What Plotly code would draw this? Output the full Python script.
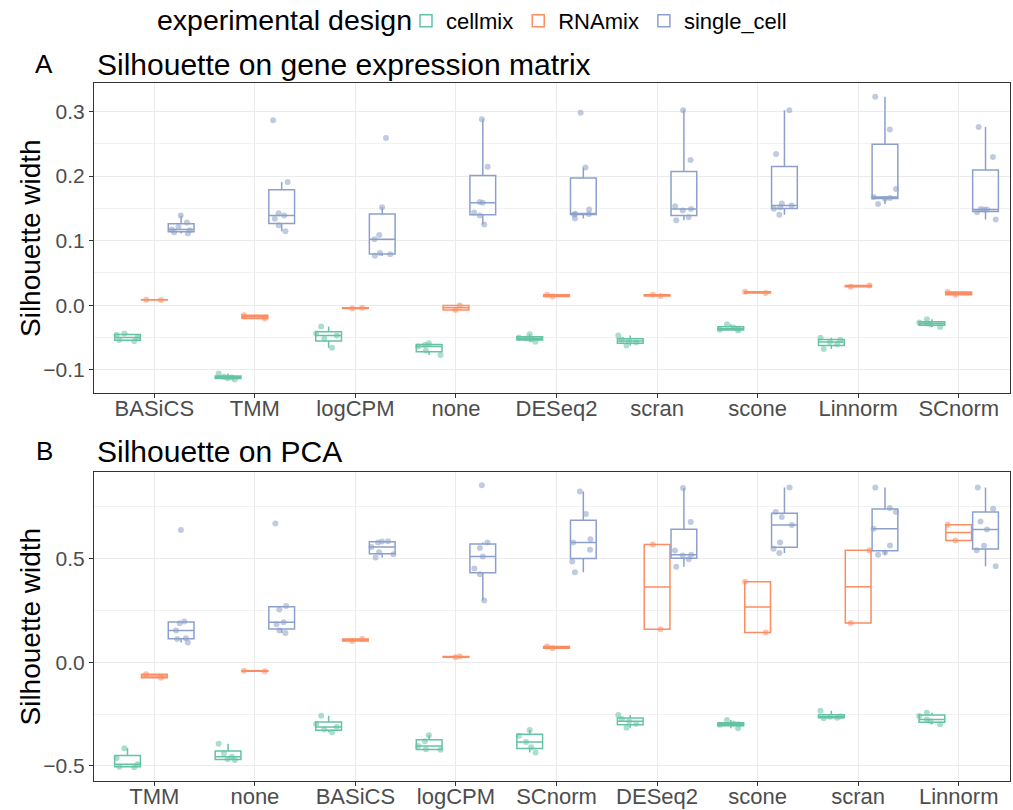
import plotly.graph_objects as go

# ---------------- data ----------------
cats_A = ["BASiCS", "TMM", "logCPM", "none", "DESeq2", "scran", "scone", "Linnorm", "SCnorm"]
cats_B = ["TMM", "none", "BASiCS", "logCPM", "SCnorm", "DESeq2", "scone", "scran", "Linnorm"]
groups = ["cellmix", "RNAmix", "single_cell"]

# Panel A: silhouette on gene expression matrix (one list per method, in cats_A order)
A_cellmix = [
    [-0.044, -0.046, -0.050, -0.054, -0.056],
    [-0.106, -0.111, -0.112, -0.113, -0.115],
    [-0.066, -0.052, -0.047, -0.044, -0.033],
    [-0.077, -0.0705, -0.064, -0.0617, -0.059],
    [-0.045, -0.050, -0.0515, -0.053, -0.0565],
    [-0.0625, -0.058, -0.0555, -0.0535, -0.047],
    [-0.0394, -0.038, -0.0365, -0.0347, -0.0295],
    [-0.0679, -0.0606, -0.057, -0.054, -0.0503],
    [-0.0337, -0.030, -0.0285, -0.027, -0.0218],
]
A_RNAmix = [
    [0.008, 0.0085],
    [-0.0155, -0.0205],
    [-0.004, -0.005],
    [-0.0073, -0.0005],
    [0.0135, 0.016],
    [0.014, 0.016],
    [0.0207, 0.0187],
    [0.0285, 0.0306],
    [0.016, 0.0202],
]
A_single_cell = [
    [0.111, 0.113, 0.116, 0.117, 0.121, 0.128, 0.139],
    [0.1145, 0.1238, 0.1337, 0.1389, 0.1425, 0.1907, 0.2865],
    [0.0767, 0.0788, 0.0808, 0.102, 0.1088, 0.1518, 0.259],
    [0.1249, 0.1389, 0.1435, 0.1585, 0.1596, 0.2145, 0.288],
    [0.134, 0.140, 0.141, 0.1415, 0.148, 0.213, 0.298],
    [0.1316, 0.1363, 0.1466, 0.149, 0.153, 0.2249, 0.302],
    [0.1399, 0.1492, 0.1518, 0.1544, 0.1575, 0.234, 0.302],
    [0.1565, 0.1648, 0.1658, 0.1674, 0.180, 0.272, 0.3228],
    [0.1326, 0.144, 0.148, 0.148, 0.149, 0.2295, 0.276],
]

# Panel B: silhouette on PCA (one list per method, in cats_B order)
B_cellmix = [
    [-0.507, -0.504, -0.492, -0.462, -0.4155],
    [-0.472, -0.468, -0.4555, -0.440, -0.393],
    [-0.338, -0.325, -0.312, -0.298, -0.258],
    [-0.422, -0.42, -0.404, -0.381, -0.3527],
    [-0.435, -0.41, -0.385, -0.355, -0.327],
    [-0.3156, -0.2963, -0.285, -0.2738, -0.2544],
    [-0.319, -0.302, -0.2995, -0.296, -0.2786],
    [-0.2705, -0.2673, -0.263, -0.2605, -0.2335],
    [-0.2995, -0.286, -0.276, -0.259, -0.2432],
]
B_RNAmix = [
    [-0.058, -0.075],
    [-0.041, -0.043],
    [0.103, 0.1127],
    [0.0274, 0.0242],
    [0.068, 0.0757],
    [0.159, 0.568],
    [0.1433, 0.389],
    [0.189, 0.540],
    [0.6634, 0.5878],
]
B_single_cell = [
    [0.095, 0.112, 0.116, 0.153, 0.188, 0.1965, 0.6377],
    [0.1417, 0.153, 0.1836, 0.193, 0.2544, 0.272, 0.670],
    [0.5056, 0.521, 0.531, 0.5556, 0.578, 0.583, 0.5835],
    [0.298, 0.425, 0.4525, 0.510, 0.5507, 0.578, 0.8535],
    [0.4348, 0.486, 0.5427, 0.578, 0.594, 0.715, 0.8245],
    [0.4606, 0.4976, 0.515, 0.5185, 0.539, 0.6763, 0.8406],
    [0.5266, 0.5475, 0.578, 0.662, 0.7005, 0.7246, 0.8438],
    [0.5185, 0.5298, 0.5636, 0.644, 0.7246, 0.744, 0.8438],
    [0.4638, 0.541, 0.562, 0.641, 0.6795, 0.7407, 0.8438],
]

# ---------------- style ----------------
line_colors = {"cellmix": "#66C2A5", "RNAmix": "#FC8D62", "single_cell": "#8DA0CB"}
point_colors = {"cellmix": "rgba(102,194,165,0.55)",
                "RNAmix": "rgba(252,141,98,0.55)",
                "single_cell": "rgba(141,160,203,0.55)"}
FONT = "Liberation Sans, Arial, Helvetica, sans-serif"
W, H = 1013, 810

panels = [
    ("A", "x", "y", cats_A, {"cellmix": A_cellmix, "RNAmix": A_RNAmix, "single_cell": A_single_cell}, True),
    ("B", "x2", "y2", cats_B, {"cellmix": B_cellmix, "RNAmix": B_RNAmix, "single_cell": B_single_cell}, False),
]

fig = go.Figure()
for pname, xa, ya, cats, data, show in panels:
    for g in groups:
        xs, ys = [], []
        for c, vals in zip(cats, data[g]):
            xs += [c] * len(vals)
            ys += vals
        fig.add_trace(go.Box(
            x=xs, y=ys, name=g, legendgroup=g, showlegend=show,
            xaxis=xa, yaxis=ya,
            alignmentgroup=pname, offsetgroup=g,
            boxpoints="all", jitter=1.0, pointpos=0,
            marker=dict(color=point_colors[g], size=6, line=dict(width=0)),
            line=dict(color=line_colors[g], width=1.5),
            fillcolor="rgba(255,255,255,0)",
            whiskerwidth=0, quartilemethod="linear",
            hoveron="boxes+points",
        ))

xdom = [94 / W, 1010 / W]
axis_common = dict(
    showline=True, mirror=True, linecolor="#333333", linewidth=1.2,
    showgrid=True, gridcolor="#EBEBEB", gridwidth=1,
    ticks="outside", ticklen=4, tickcolor="#333333", tickwidth=1,
    zeroline=False, automargin=False,
)
xtickfont = dict(family=FONT, size=22, color="#4D4D4D")
ytickfont = dict(family=FONT, size=21, color="#4D4D4D")

fig.update_layout(
    width=W, height=H,
    margin=dict(l=0, r=0, t=0, b=0),
    paper_bgcolor="white", plot_bgcolor="white",
    boxmode="group", boxgap=0.2, boxgroupgap=0.04,
    font=dict(family=FONT, color="black"),
    xaxis=dict(domain=xdom, anchor="y", type="category",
               categoryorder="array", categoryarray=cats_A,
               range=[-0.6, 8.51], tickfont=xtickfont, ticklabelstandoff=-9,
               **axis_common),
    yaxis=dict(domain=[1 - 393 / H, 1 - 83 / H], anchor="x",
               range=[-0.136, 0.344], tick0=0, dtick=0.1, tickformat=".1f",
               tickfont=ytickfont,
               minor=dict(dtick=0.05, showgrid=True, gridcolor="#F2F2F2", gridwidth=0.7, ticks=""),
               **axis_common),
    xaxis2=dict(domain=xdom, anchor="y2", type="category",
                categoryorder="array", categoryarray=cats_B,
                range=[-0.6, 8.51], tickfont=xtickfont, ticklabelstandoff=-9,
                **axis_common),
    yaxis2=dict(domain=[1 - 781 / H, 1 - 472 / H], anchor="x2",
                range=[-0.573, 0.918], tick0=0, dtick=0.5, tickformat=".1f",
                tickfont=ytickfont,
                minor=dict(dtick=0.25, showgrid=True, gridcolor="#F2F2F2", gridwidth=0.7, ticks=""),
                **axis_common),
    legend=dict(orientation="h", x=406 / W, y=1.0, xanchor="left", yanchor="top",
                font=dict(family=FONT, size=22, color="black"),
                bgcolor="rgba(0,0,0,0)", itemwidth=30),
    showlegend=True,
)

annots = [
    dict(text="experimental design", x=155 / W, y=1 - 20 / H, xanchor="left", size=28.5),
    dict(text="A", x=44 / W, y=1 - 64 / H, xanchor="center", size=26),
    dict(text="Silhouette on gene expression matrix", x=95 / W, y=1 - 64 / H, xanchor="left", size=30),
    dict(text="B", x=44 / W, y=1 - 451 / H, xanchor="center", size=26),
    dict(text="Silhouette on PCA", x=95 / W, y=1 - 451 / H, xanchor="left", size=30),
]
for a in annots:
    fig.add_annotation(text=a["text"], x=a["x"], y=a["y"], xref="paper", yref="paper",
                       xanchor=a["xanchor"], yanchor="middle", showarrow=False,
                       font=dict(family=FONT, size=a["size"], color="black"))
for yc in [(83 + 393) / 2, (472 + 781) / 2]:
    fig.add_annotation(text="Silhouette width", x=30 / W, y=1 - yc / H, xref="paper", yref="paper",
                       xanchor="center", yanchor="middle", textangle=-90, showarrow=False,
                       font=dict(family=FONT, size=28, color="black"))

fig.write_html(
    "out.html",
    config={"displayModeBar": False},
    post_script="document.body.style.margin='0';document.body.style.overflow='hidden';",
)
